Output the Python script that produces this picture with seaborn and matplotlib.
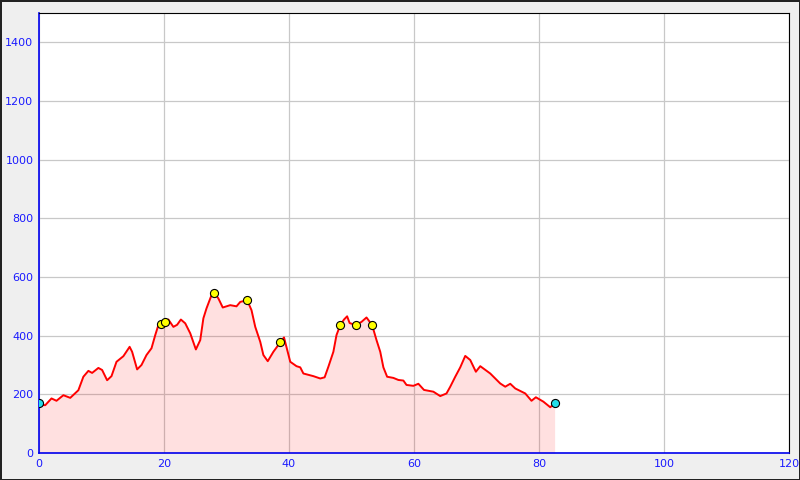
import pandas as pd
import matplotlib
matplotlib.use("Agg")
import matplotlib.pyplot as plt
import seaborn as sns

# profil altimetrique : distance (km) / altitude (m)
distance = [0, 1.0, 2.0, 2.8, 3.9, 5.0, 6.3, 7.1, 7.9, 8.5, 9.5, 10.1, 10.9, 11.6,
            12.4, 13.5, 14.5, 14.9, 15.7, 16.4, 17.2, 18.0, 18.6, 19.1, 19.5, 20.2,
            20.7, 21.5, 22.1, 22.7, 23.4, 24.2, 25.1, 25.8, 26.3, 26.8, 27.6, 28.0,
            28.7, 29.4, 30.6, 31.6, 32.2, 33.3, 34.0, 34.6, 35.4, 35.9, 36.6, 37.5,
            38.6, 39.2, 40.2, 41.2, 41.8, 42.3, 43.9, 45.0, 45.7, 46.3, 47.1, 47.6,
            48.2, 48.8, 49.3, 49.7, 50.7, 51.6, 52.4, 53.3, 54.0, 54.6, 55.1, 55.7,
            56.7, 57.5, 58.3, 58.8, 59.9, 60.7, 61.6, 63.1, 64.2, 65.2, 65.8, 66.6,
            67.4, 68.2, 69.0, 69.9, 70.6, 72.2, 73.8, 74.6, 75.4, 76.2, 77.8, 78.8,
            79.5, 80.7, 81.8, 82.5]
altitude = [165, 163, 186, 178, 197, 188, 214, 260, 280, 273, 290, 283, 248, 262,
            311, 330, 362, 345, 285, 300, 334, 357, 402, 436, 440, 448,
            455, 430, 437, 455, 442, 408, 353, 385, 459, 493, 538, 547,
            527, 496, 504, 500, 515, 521, 487, 430, 379, 334, 313, 345,
            377, 394, 311, 296, 292, 271, 262, 254, 258, 294, 345, 402,
            436, 455, 466, 443, 436, 447, 462, 436, 385, 345, 292, 260,
            256, 249, 247, 232, 229, 236, 215, 209, 194, 203, 226, 260,
            292, 331, 317, 277, 296, 271, 237, 226, 236, 220, 203, 178,
            190, 175, 156, 169]

# points de passage (jaune) et depart / arrivee (cyan)
waypoint_x = [19.5, 20.2, 28.0, 33.3, 38.6, 48.2, 50.7, 53.3]
waypoint_y = [440, 448, 547, 521, 377, 436, 436, 436]
endpoint_x = [0, 82.5]
endpoint_y = [170, 169]

df = pd.DataFrame({"distance": distance, "altitude": altitude})

sns.set_style("white")
plt.rcParams['font.family'] = ['DejaVu Sans']

fig = plt.figure(figsize=(8, 4.8), dpi=100, facecolor='#efefef',
                 edgecolor='#222222', linewidth=1.0)
ax = fig.add_axes([0.04875, 0.05625, 0.9375, 0.91667])
ax.set_facecolor('white')

ax.fill_between(df["distance"], df["altitude"], 0, color='red', alpha=0.12,
                linewidth=0, zorder=1)
sns.lineplot(data=df, x="distance", y="altitude", color='red', linewidth=1.4,
             ax=ax, zorder=3)
sns.scatterplot(x=waypoint_x, y=waypoint_y, color='yellow', edgecolor='black',
                s=34, linewidth=0.8, ax=ax, zorder=4)
sns.scatterplot(x=endpoint_x, y=endpoint_y, color='#22dde8', edgecolor='black',
                s=34, linewidth=0.8, ax=ax, zorder=4)

ax.set_xlim(0, 120)
ax.set_ylim(0, 1500)
ax.set_xticks(range(0, 121, 20))
ax.set_yticks(range(0, 1401, 200))
ax.grid(True, color='#c8c8c8', linewidth=0.9)
ax.set_axisbelow(True)
ax.set_xlabel('')
ax.set_ylabel('')

ax.tick_params(axis='both', direction='in', colors='#1a1aff', labelsize=8,
               length=5, width=1, pad=4)
for side in ['left', 'bottom']:
    ax.spines[side].set_color('#0000ee')
    ax.spines[side].set_linewidth(1.2)
for side in ['top', 'right']:
    ax.spines[side].set_color('black')
    ax.spines[side].set_linewidth(0.8)

plt.savefig("out.png", dpi=100, facecolor=fig.get_facecolor(),
            edgecolor=fig.get_edgecolor())
plt.close()
